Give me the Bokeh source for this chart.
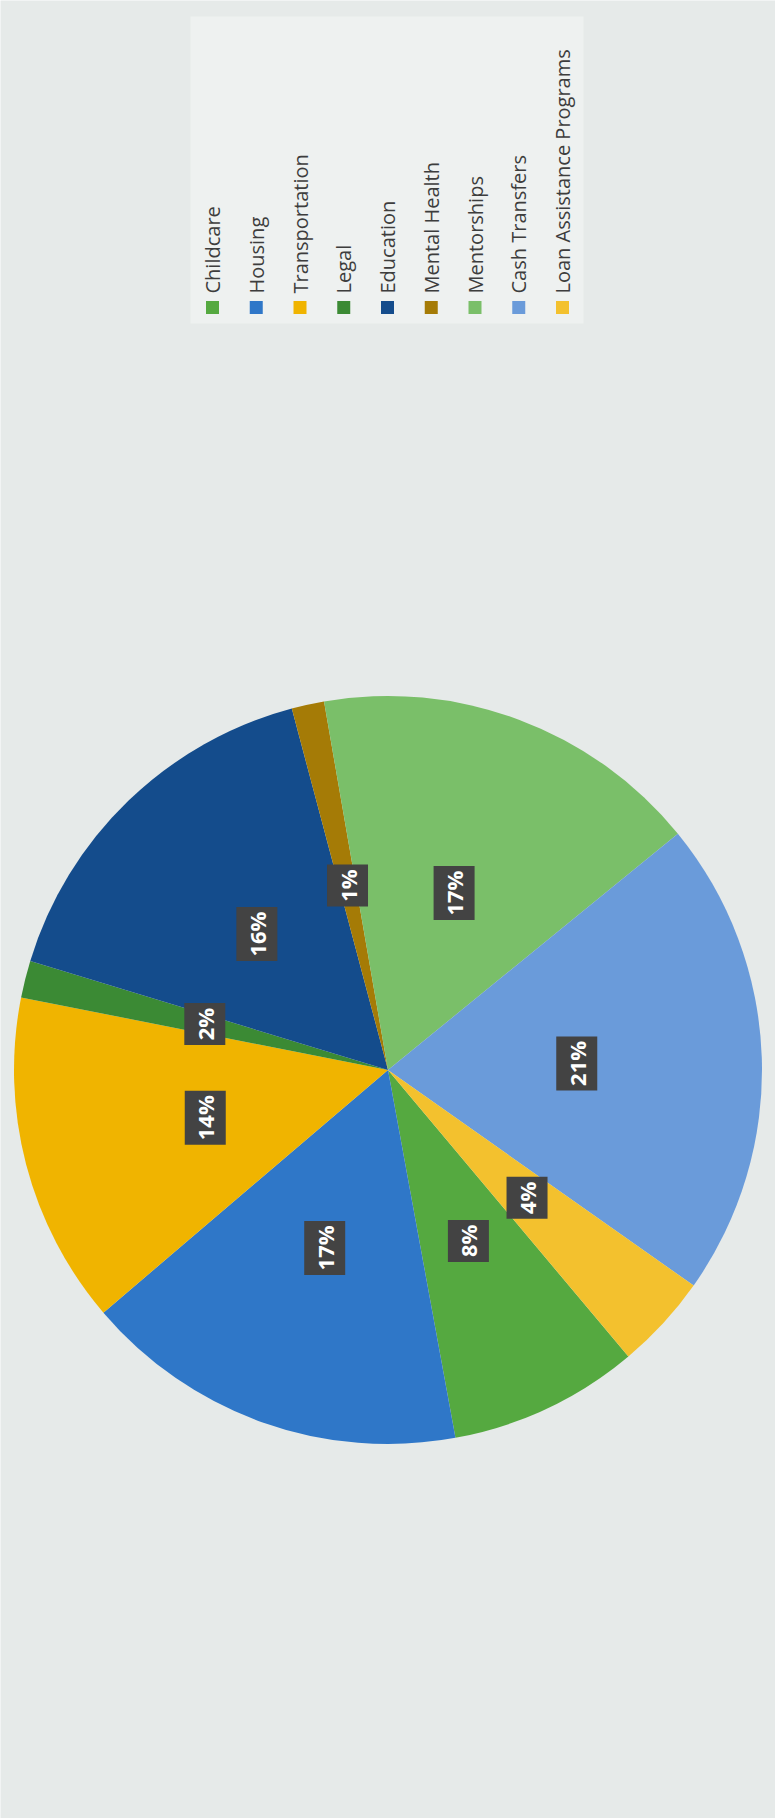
import math
from bokeh.plotting import figure
from bokeh.models import Range1d, ColumnDataSource
from bokeh.embed import file_html
from bokeh.resources import INLINE
from bokeh.core.properties import value

# ---- data (shares; labels are the rounded percentages) ----
categories = ["Childcare", "Housing", "Transportation", "Legal", "Education",
              "Mental Health", "Mentorships", "Cash Transfers", "Loan Assistance Programs"]
shares = [8.2, 16.6, 14.3, 1.6, 16.1, 1.4, 16.8, 20.6, 4.1]
total = float(sum(shares))
labels = [f"{round(v / total * 100)}%" for v in shares]

# ---- style ----
colors = ["#55a940", "#2f77c8", "#f0b400", "#3b8a34", "#144c8c",
          "#a57b06", "#7abf69", "#6a9bda", "#f3c12e"]

W, H = 775, 1818


def py(y):
    return H - y


p = figure(width=W, height=H, x_range=Range1d(0, W), y_range=Range1d(0, H),
           output_backend="svg", toolbar_location=None,
           x_axis_type=None, y_axis_type=None, min_border=0)
p.background_fill_color = "#e6eae9"
p.border_fill_color = "#e6eae9"
p.outline_line_color = None
p.grid.visible = False

# pie (chart is rotated 90 degrees on the page)
cx, cy, R = 387.5, py(1069.5), 374.0
S = -50.0
starts, ends, lx, ly, bh = [], [], [], [], []
cum = 0.0
for v, lab in zip(shares, labels):
    a0 = S - cum / total * 360.0
    cum += v
    a1 = S - cum / total * 360.0
    starts.append(math.radians(a0))
    ends.append(math.radians(a1))
    mid = math.radians((a0 + a1) / 2.0)
    lx.append(cx + 0.505 * R * math.cos(mid))
    ly.append(cy + 0.505 * R * math.sin(mid))
    bh.append(54 if len(lab) >= 3 else 42)

src = ColumnDataSource(dict(start=starts, end=ends, color=colors, cat=categories,
                            lx=lx, ly=ly, lab=labels, bh=bh))
p.wedge(x=cx, y=cy, radius=R, start_angle="start", end_angle="end", direction="clock",
        fill_color="color", line_color=None, source=src)

# data labels
p.rect(x="lx", y="ly", width=41, height="bh", fill_color="#434343", line_color=None, source=src)
p.text(x="lx", y="ly", text="lab", angle=math.pi / 2, text_align="center", text_baseline="middle",
       text_font=value("Open Sans"), text_font_style="bold", text_font_size="22px",
       text_color="white", source=src)

# legend
p.quad(left=190, right=583, top=py(16), bottom=py(323), fill_color="#eef1f0", line_color=None)
lgx = [212 + i * 43.75 for i in range(len(categories))]
lsrc = ColumnDataSource(dict(x=lgx, cat=categories, color=colors))
p.rect(x="x", y=py(307), width=13, height=13, fill_color="color", line_color=None, source=lsrc)
p.text(x="x", y=py(293), text="cat", angle=math.pi / 2, text_align="left", text_baseline="middle",
       text_font=value("Open Sans"), text_font_size="20px", text_color="#3d3d3d", source=lsrc)

open("out.html", "w").write(file_html(p, INLINE))
